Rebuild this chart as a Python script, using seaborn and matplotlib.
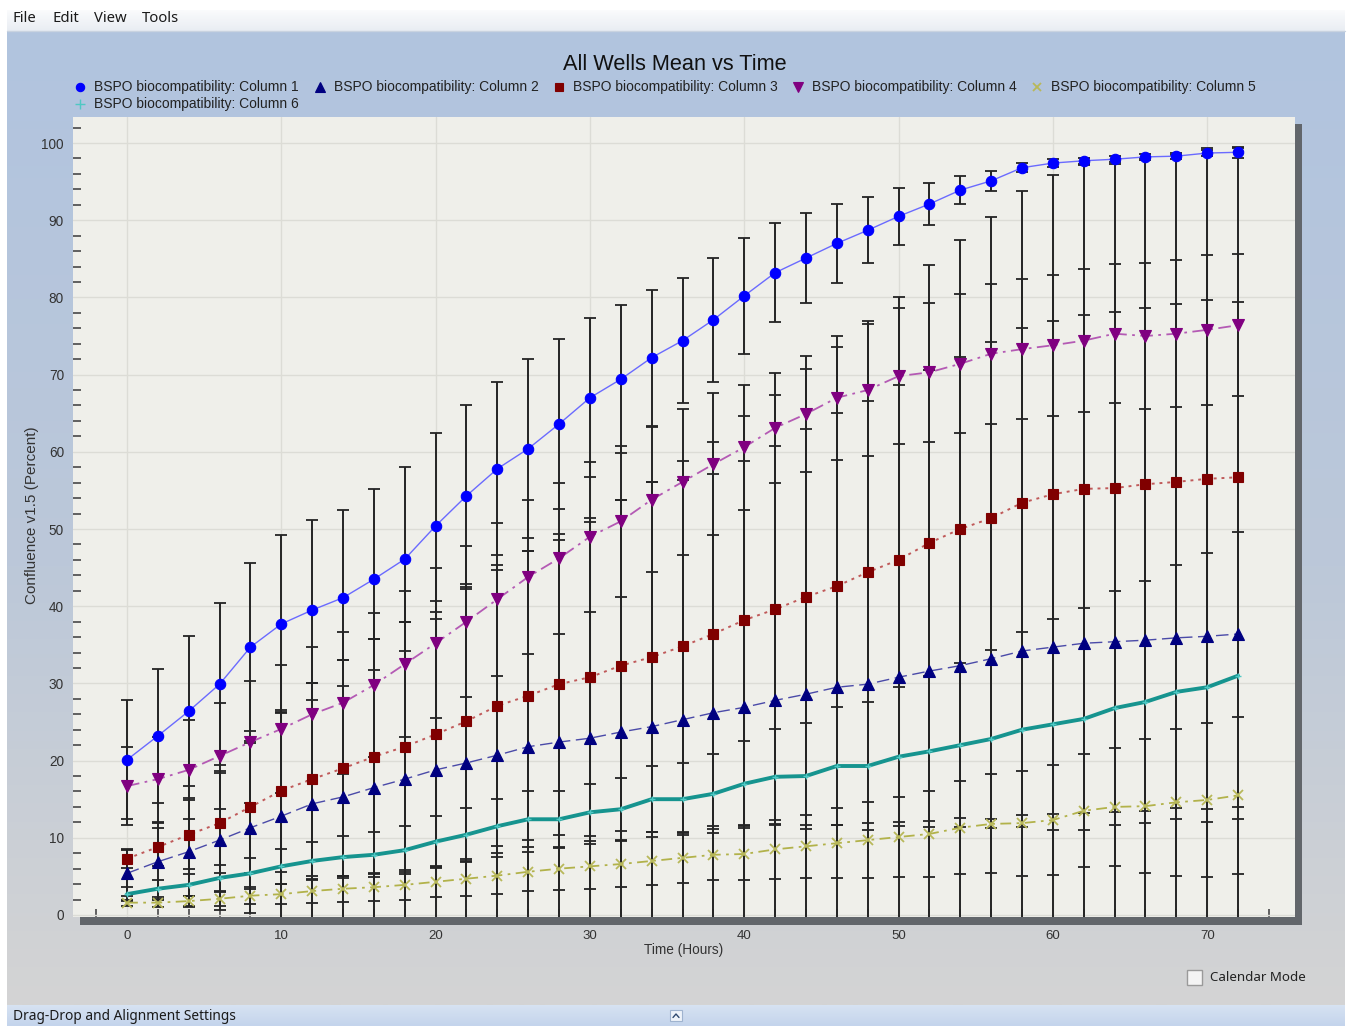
import numpy as np
import pandas as pd
import matplotlib
matplotlib.use("Agg")
import matplotlib.pyplot as plt
from matplotlib.patches import Rectangle
import seaborn as sns

# ---------------------------------------------------------------- data
hours = list(range(0, 74, 2))

series_names = [
    "BSPO biocompatibility: Column 1",
    "BSPO biocompatibility: Column 2",
    "BSPO biocompatibility: Column 3",
    "BSPO biocompatibility: Column 4",
    "BSPO biocompatibility: Column 5",
    "BSPO biocompatibility: Column 6",
]

col1_mean = [20.1, 23.2, 26.4, 29.9, 34.7, 37.7, 39.5, 41.1, 43.5, 46.1, 50.4, 54.3, 57.8,
             60.4, 63.6, 67.0, 69.4, 72.2, 74.4, 77.1, 80.2, 83.2, 85.1, 87.0, 88.7, 90.5,
             92.1, 93.9, 95.1, 96.8, 97.4, 97.7, 97.9, 98.2, 98.3, 98.7, 98.8]
col1_err = [7.7, 8.7, 9.7, 10.5, 10.9, 11.5, 11.7, 11.4, 11.7, 11.9, 12.0, 11.8, 11.2,
            11.6, 11.0, 10.3, 9.6, 8.8, 8.1, 8.0, 7.5, 6.4, 5.8, 5.1, 4.3, 3.7,
            2.7, 1.8, 1.3, 0.6, 0.5, 0.4, 0.4, 0.4, 0.4, 0.4, 0.7]

col2_mean = [5.4, 6.9, 8.2, 9.7, 11.3, 12.8, 14.4, 15.3, 16.5, 17.6, 18.8, 19.7, 20.7,
             21.8, 22.4, 22.9, 23.7, 24.4, 25.3, 26.2, 26.9, 27.8, 28.6, 29.5, 29.9, 30.8,
             31.6, 32.3, 33.2, 34.2, 34.7, 35.2, 35.4, 35.6, 35.9, 36.1, 36.4]
col2_err = [3.0, 5.0, 7.0, 9.0, 11.0, 13.5, 15.7, 17.7, 19.2, 20.4, 20.5, 22.5, 24.0,
            25.3, 26.2, 28.0, 30.0, 31.7, 31.0, 30.9, 31.9, 33.0, 34.3, 35.5, 36.7, 37.8,
            39.0, 40.0, 41.0, 41.8, 42.3, 42.5, 42.7, 43.0, 43.3, 43.5, 43.0]

col3_mean = [7.3, 8.8, 10.4, 11.9, 14.0, 16.1, 17.6, 19.0, 20.5, 21.8, 23.4, 25.1, 27.1,
             28.4, 29.9, 30.8, 32.3, 33.4, 34.8, 36.4, 38.2, 39.6, 41.2, 42.6, 44.4, 46.0,
             48.2, 50.0, 51.4, 53.4, 54.5, 55.2, 55.3, 55.8, 56.1, 56.5, 56.7]
col3_err = [1.2, 2.5, 4.5, 6.5, 8.5, 10.5, 12.5, 14.0, 15.2, 16.2, 17.3, 17.8, 18.2,
            18.7, 19.5, 20.6, 21.4, 22.7, 24.0, 24.9, 26.5, 27.8, 29.5, 31.0, 32.5, 34.0,
            36.0, 37.5, 39.0, 40.4, 41.4, 42.0, 42.0, 42.3, 42.3, 42.8, 42.7]

col4_mean = [16.7, 17.6, 18.8, 20.6, 22.4, 24.1, 26.0, 27.5, 29.8, 32.5, 35.2, 38.0, 40.9,
             43.8, 46.2, 49.0, 51.0, 53.8, 56.1, 58.4, 60.6, 63.1, 64.9, 67.0, 68.0, 69.8,
             70.3, 71.4, 72.7, 73.3, 73.8, 74.4, 75.3, 75.0, 75.3, 75.8, 76.4]
col4_err = [5.0, 5.5, 6.4, 6.9, 7.9, 8.3, 8.7, 9.2, 9.3, 9.5, 9.7, 9.8, 9.9,
            10.0, 9.8, 9.7, 9.8, 9.4, 9.5, 9.2, 8.1, 7.1, 7.5, 8.0, 8.5, 8.8,
            9.0, 9.0, 9.1, 9.1, 9.1, 9.3, 9.0, 9.5, 9.5, 9.7, 9.2]

col5_mean = [1.6, 1.6, 1.8, 2.1, 2.5, 2.7, 3.1, 3.4, 3.6, 3.9, 4.3, 4.7, 5.1,
             5.6, 6.0, 6.3, 6.6, 7.0, 7.4, 7.8, 7.9, 8.5, 8.9, 9.3, 9.7, 10.1,
             10.5, 11.3, 11.8, 11.9, 12.3, 13.5, 14.0, 14.1, 14.6, 14.9, 15.5]
col5_err = [0.4, 0.5, 0.7, 0.9, 1.1, 1.3, 1.5, 1.7, 1.8, 1.9, 2.0, 2.2, 2.4,
            2.5, 2.7, 2.9, 3.0, 3.1, 3.2, 3.3, 3.4, 3.8, 4.1, 4.5, 4.9, 5.2,
            5.6, 6.0, 6.4, 6.8, 7.1, 7.3, 7.6, 8.7, 9.5, 10.0, 10.2]

col6_mean = [2.7, 3.4, 3.9, 4.8, 5.4, 6.3, 7.0, 7.5, 7.8, 8.4, 9.5, 10.4, 11.5,
             12.4, 12.4, 13.3, 13.7, 15.0, 15.0, 15.7, 17.0, 17.9, 18.0, 19.3, 19.3, 20.5,
             21.2, 22.0, 22.8, 24.0, 24.7, 25.4, 26.8, 27.6, 28.9, 29.5, 31.0]
col6_err = [0.9, 1.1, 1.4, 1.7, 2.0, 2.3, 2.5, 2.7, 2.9, 3.1, 3.3, 3.4, 3.5,
            3.6, 3.6, 3.7, 4.0, 4.3, 4.7, 5.1, 5.5, 6.2, 6.9, 7.6, 8.3, 9.0,
            9.8, 10.6, 11.5, 12.6, 13.7, 14.4, 15.2, 15.7, 16.5, 17.4, 18.6]

x_ticks = [0, 10, 20, 30, 40, 50, 60, 70]
y_ticks = [0, 10, 20, 30, 40, 50, 60, 70, 80, 90, 100]

means = [col1_mean, col2_mean, col3_mean, col4_mean, col5_mean, col6_mean]
errors = [col1_err, col2_err, col3_err, col4_err, col5_err, col6_err]

df = pd.concat(
    [pd.DataFrame({"Time": hours, "Mean": m, "Err": e, "Series": name})
     for name, m, e in zip(series_names, means, errors)],
    ignore_index=True,
)

# ---------------------------------------------------------------- styles
styles = {
    series_names[0]: dict(line="#6a6aff", mark="#0000ff", marker="o", ms=7.5, mew=0.8,
                          ls="-", lw=1.0, lms=6.0),
    series_names[1]: dict(line="#4a4aa8", mark="#000080", marker="^", ms=8.5, mew=0.8,
                          ls=(0, (9, 4)), lw=1.0, lms=6.5),
    series_names[2]: dict(line="#c05a5a", mark="#800000", marker="s", ms=7.0, mew=0.8,
                          ls=(0, (1.5, 2.5)), lw=1.4, lms=5.5),
    series_names[3]: dict(line="#b45ab4", mark="#800080", marker="v", ms=8.5, mew=0.8,
                          ls=(0, (7, 3, 1.5, 3)), lw=1.3, lms=6.5),
    series_names[4]: dict(line="#b2b24a", mark="#b8b85a", marker="x", ms=7.5, mew=1.3,
                          ls=(0, (6, 3, 1.5, 3)), lw=1.3, lms=6.0),
    series_names[5]: dict(line="#16948f", mark="#4fc8c4", marker="+", ms=4.0, mew=1.0,
                          ls="-", lw=2.8, lms=7.0),
}

W, H = 1352, 1026
DPI = 100

sns.set_theme(style="white")
plt.rcParams["font.family"] = ["Liberation Sans", "DejaVu Sans"]

fig = plt.figure(figsize=(W / DPI, H / DPI), dpi=DPI)
fig.patch.set_facecolor("white")

# window chrome, drawn in pixel coordinates
bg = fig.add_axes([0, 0, 1, 1], zorder=-5)
bg.set_xlim(0, W)
bg.set_ylim(H, 0)
bg.axis("off")

top_rgb = np.array([177, 196, 223]) / 255
mid_rgb = np.array([188, 200, 217]) / 255
bot_rgb = np.array([212, 212, 212]) / 255
n = 400
t = np.linspace(0, 1, n)
grad = np.zeros((n, 1, 3))
for i, v in enumerate(t):
    if v < 0.55:
        grad[i, 0] = top_rgb + (mid_rgb - top_rgb) * (v / 0.55)
    else:
        grad[i, 0] = mid_rgb + (bot_rgb - mid_rgb) * ((v - 0.55) / 0.45)
bg.imshow(grad, extent=[7, 1345, 1005, 31], aspect="auto", origin="upper",
          interpolation="bilinear", zorder=0)

# menu bar
c0, c1 = np.array([250, 251, 252]), np.array([233, 237, 243])
menu = np.array([[(c0 + (c1 - c0) * i / 19) / 255] for i in range(20)])
bg.imshow(menu, extent=[7, 1345, 31, 10], aspect="auto", origin="upper", zorder=1)
bg.plot([7, 1345], [31, 31], color="#c9d3e0", lw=1, zorder=2)
for label, px in [("File", 13), ("Edit", 52), ("View", 94), ("Tools", 142)]:
    bg.text(px, 18.5, label, fontsize=10.7, color="#1a1a1a", va="center", ha="left",
            family=["Noto Sans", "DejaVu Sans"])

# bottom settings bar
c0, c1 = np.array([214, 226, 242]), np.array([196, 212, 236])
bar = np.array([[(c0 + (c1 - c0) * i / 20) / 255] for i in range(21)])
bg.imshow(bar, extent=[7, 1345, 1026, 1005], aspect="auto", origin="upper", zorder=1)
bg.text(13, 1016.5, "Drag-Drop and Alignment Settings", fontsize=9.9, color="#1a1a1a",
        va="center", ha="left", family=["Noto Sans", "DejaVu Sans"])
bg.add_patch(Rectangle((670, 1010), 12, 11, facecolor="#eef3fa", edgecolor="#9fb3cf",
                       lw=0.8, zorder=2))
bg.plot([673, 676, 679], [1017.5, 1014, 1017.5], color="#304a70", lw=1.0, zorder=3)

# "Calendar Mode" checkbox
bg.add_patch(Rectangle((1187, 970), 15, 15, facecolor="#f4f4f4", edgecolor="#9a9a9a",
                       lw=1.0, zorder=2))
bg.text(1210, 977.5, "Calendar Mode", fontsize=9.6, color="#222222", va="center",
        ha="left", family=["Noto Sans", "DejaVu Sans"])

# drop shadow behind plot area
bg.add_patch(Rectangle((80, 124), 1222, 801, facecolor="#62666b", edgecolor="none",
                       zorder=3))

# ---------------------------------------------------------------- plot area
L, T, R, B = 73, 117, 1295, 917
ax = fig.add_axes([L / W, 1 - B / H, (R - L) / W, (B - T) / H], zorder=1)
ax.set_facecolor("#efefea")
for sp in ax.spines.values():
    sp.set_visible(False)

for name, m, e in zip(series_names, means, errors):
    ax.errorbar(hours, m, yerr=e, fmt="none", ecolor="#242424", elinewidth=1.4,
                capsize=4.0, capthick=1.3, zorder=2)

for name in series_names:
    st = styles[name]
    sub = df[df["Series"] == name]
    sns.lineplot(data=sub, x="Time", y="Mean", ax=ax, color=st["line"], lw=st["lw"],
                 linestyle=st["ls"], marker=st["marker"], markersize=st["ms"],
                 markerfacecolor=st["mark"], markeredgecolor=st["mark"],
                 markeredgewidth=st["mew"], errorbar=None, legend=False,
                 estimator=None, sort=False, zorder=3)

ax.set_xlim(-3.5, 75.69)
ax.set_ylim(-0.26, 103.37)
ax.set_xticks(x_ticks)
ax.set_yticks(y_ticks)
ax.set_xticks([v for v in range(-2, 76, 2) if v % 10], minor=True)
ax.set_yticks([v for v in range(2, 104, 2) if v % 10], minor=True)
ax.grid(True, which="major", color="#dcdcd6", lw=1.0, zorder=0)
ax.set_axisbelow(True)

ax.tick_params(axis="x", which="major", direction="out", length=8, width=1,
               color="#cfcfcf", pad=1.5, labelsize=9.5, labelcolor="#333333")
ax.tick_params(axis="y", which="major", direction="out", length=5, width=1,
               color="#cfcfcf", pad=1.5, labelsize=9.8, labelcolor="#333333")
ax.tick_params(axis="both", which="minor", direction="in", length=6, width=1.3,
               color="#555555")
ax.tick_params(axis="x", which="minor", bottom=True)
ax.tick_params(axis="y", which="minor", left=True)

ax.set_xlabel("Time (Hours)", fontsize=9.8, color="#333333")
ax.set_ylabel("Confluence v1.5 (Percent)", fontsize=11.0, color="#333333")
ax.xaxis.set_label_coords(0.5, -0.033)
ax.yaxis.set_label_coords(-0.0275, 0.5025)

ax.set_title("All Wells Mean vs Time", fontsize=15.7, color="#111111", x=0.4926,
             y=1.059, pad=0)

# legend, two rows across the top
legend_pos = [(80, 87), (320, 87), (559, 87), (798, 87), (1037, 87), (80, 104)]
for name, (px, py) in zip(series_names, legend_pos):
    st = styles[name]
    bg.plot([px], [py], marker=st["marker"], color=st["mark"], markersize=st["lms"],
            markeredgewidth=st["mew"], linestyle="none", zorder=5)
    bg.text(px + 14, py, name, fontsize=10.0, color="#222222", va="center", ha="left",
            zorder=5)

fig.savefig("out.png", dpi=DPI)
